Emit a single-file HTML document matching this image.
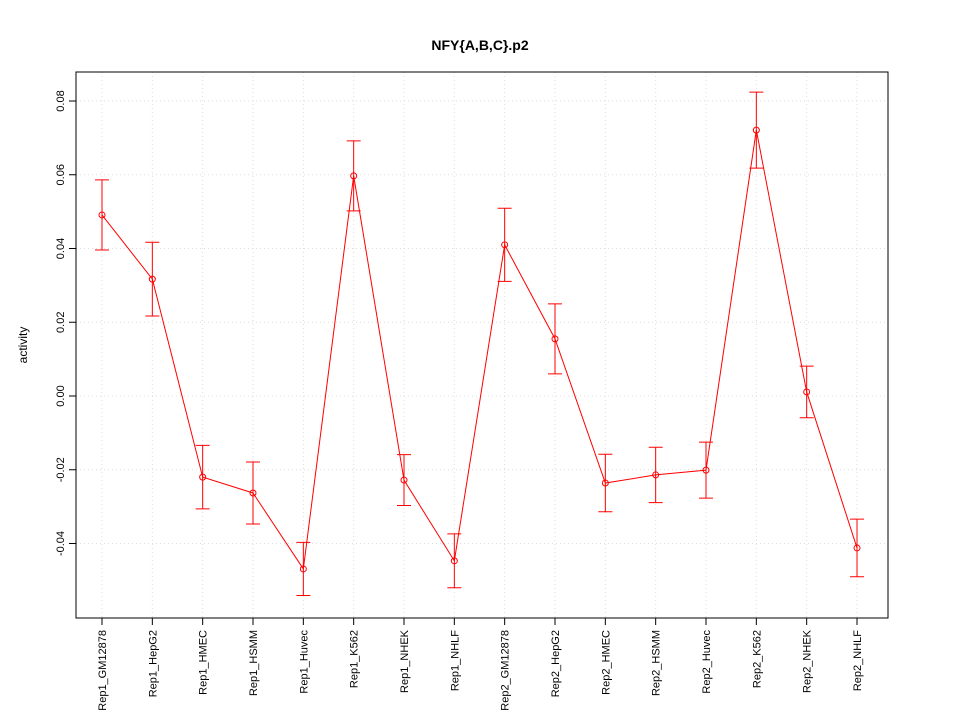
<!DOCTYPE html>
<html><head><meta charset="utf-8"><style>
body{margin:0;background:#fff;}
svg{font-family:"Liberation Sans",sans-serif;}
</style></head><body>
<svg id="chart" width="960" height="720" xmlns="http://www.w3.org/2000/svg">
<rect width="960" height="720" fill="#fff"/>
<text x="480" y="50" text-anchor="middle" font-size="14" font-weight="bold">NFY{A,B,C}.p2</text>
<text transform="translate(27,345) rotate(-90)" text-anchor="middle" font-size="12">activity</text>
<g id="grid"></g><g id="axes"></g><g id="marks"></g>
<rect x="76" y="72" width="812" height="546" fill="none" stroke="#000"/>
</svg>
<script>
const categories=["Rep1_GM12878","Rep1_HepG2","Rep1_HMEC","Rep1_HSMM","Rep1_Huvec","Rep1_K562","Rep1_NHEK","Rep1_NHLF","Rep2_GM12878","Rep2_HepG2","Rep2_HMEC","Rep2_HSMM","Rep2_Huvec","Rep2_K562","Rep2_NHEK","Rep2_NHLF"];
const values=[0.0491,0.0317,-0.022,-0.0263,-0.0469,0.0597,-0.0228,-0.0447,0.041,0.0155,-0.0236,-0.0214,-0.0201,0.0721,0.0011,-0.0412];
const errors=[0.0095,0.010,0.0086,0.0084,0.0072,0.0095,0.0069,0.0073,0.0099,0.0095,0.0078,0.0075,0.0076,0.0103,0.007,0.0078];
const yTicks=[-0.04,-0.02,0,0.02,0.04,0.06,0.08];
const yTickLabels=["-0.04","-0.02","0.00","0.02","0.04","0.06","0.08"];
const NS="http://www.w3.org/2000/svg";
function xs(i){return 102+i*(857-102)/(categories.length-1);}
function ys(v){return 396-v*3687.5;}
function mk(tag,attrs,parent){const e=document.createElementNS(NS,tag);for(const k in attrs)e.setAttribute(k,attrs[k]);document.getElementById(parent).appendChild(e);return e;}
categories.forEach((c,i)=>{
 const g=mk('line',{x1:xs(i),x2:xs(i),y1:72,y2:618,stroke:'#dcdcdc','stroke-dasharray':'1,3'},'grid');
 
 
 const t=mk('line',{x1:xs(i),x2:xs(i),y1:618,y2:625,stroke:'#000'},'axes');
 
 
 const l=mk('text',{transform:`translate(${xs(i)+4},630) rotate(-90)`,'text-anchor':'end','font-size':'11'},'axes');
 l.textContent=c;
 
 
});
yTicks.forEach((v,i)=>{
 const g=mk('line',{x1:76,x2:888,y1:ys(v),y2:ys(v),stroke:'#dcdcdc','stroke-dasharray':'1,3'},'grid');
 
 
 const t=mk('line',{x1:69,x2:76,y1:ys(v),y2:ys(v),stroke:'#000'},'axes');
 
 
 const l=mk('text',{transform:`translate(64,${ys(v)}) rotate(-90)`,'text-anchor':'middle','font-size':'11'},'axes');
 l.textContent=yTickLabels[i];
 
 
});
const line=mk('polyline',{points:values.map((v,i)=>xs(i)+','+ys(v)).join(' '),fill:'none',stroke:'#f00'},'marks');


values.forEach((v,i)=>{
 const x=xs(i),t=ys(v+errors[i]),b=ys(v-errors[i]);
 const e=mk('path',{d:`M${x},${t}V${b}M${x-7},${t}H${x+7}M${x-7},${b}H${x+7}`,stroke:'#f00',fill:'none'},'marks');
 
 
 const p=mk('circle',{cx:x,cy:ys(v),r:3,fill:'none',stroke:'#f00'},'marks');
 
 
});
</script>
</body></html>
